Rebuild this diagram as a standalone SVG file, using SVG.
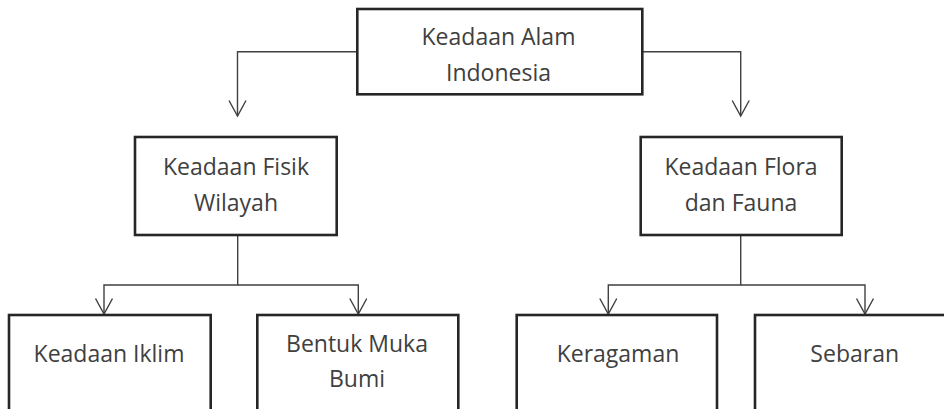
<svg xmlns="http://www.w3.org/2000/svg" width="944" height="409" viewBox="0 0 944 409">
<style>
.box{fill:#ffffff;stroke:#262626;stroke-width:2.6}
.lbl{font-family:"Open Sans","Liberation Sans",sans-serif;font-size:23px;fill:#404040;text-anchor:middle}
.con{fill:none;stroke:#404040;stroke-width:1.4}
</style>
<defs>
<marker id="arr" markerUnits="userSpaceOnUse" markerWidth="20" markerHeight="20" viewBox="0 0 20 20" refX="16" refY="9" orient="auto">
<path d="M0.5,0.5 L16,9 L0.5,17.5" fill="none" stroke="#404040" stroke-width="1.4"/>
</marker>
</defs>
<rect width="944" height="409" fill="#ffffff"/>
<g id="connectors">
<path class="con" d="M357,51.7 H237.5 V116" marker-end="url(#arr)"/>
<path class="con" d="M642,51.7 H740.7 V116" marker-end="url(#arr)"/>
<path class="con" d="M237.7,235 V285 H104 V314" marker-end="url(#arr)"/>
<path class="con" d="M237.7,285 H358.3 V314" marker-end="url(#arr)"/>
<path class="con" d="M740.7,235 V285 H608.3 V314" marker-end="url(#arr)"/>
<path class="con" d="M740.7,285 H865 V314" marker-end="url(#arr)"/>
</g>
<g id="n-alam">
<rect class="box" x="357.3" y="9" width="285" height="85.3"/>
<text class="lbl" x="498.5" y="45">Keadaan Alam</text>
<text class="lbl" x="498.5" y="81">Indonesia</text>
</g>
<g id="n-fisik">
<rect class="box" x="135" y="137" width="201.7" height="98"/>
<text class="lbl" x="236" y="175">Keadaan Fisik</text>
<text class="lbl" x="236" y="211">Wilayah</text>
</g>
<g id="n-flora">
<rect class="box" x="640.7" y="137" width="201" height="98"/>
<text class="lbl" x="741" y="174.5">Keadaan Flora</text>
<text class="lbl" x="741" y="210.5">dan Fauna</text>
</g>
<g id="n-iklim">
<rect class="box" x="9" y="315" width="201.7" height="110"/>
<text class="lbl" x="109" y="362.3">Keadaan Iklim</text>
</g>
<g id="n-bentuk">
<rect class="box" x="257.3" y="315" width="201" height="110"/>
<text class="lbl" x="357" y="352.3">Bentuk Muka</text>
<text class="lbl" x="357" y="387.3">Bumi</text>
</g>
<g id="n-keragaman">
<rect class="box" x="516.7" y="315" width="200.3" height="110"/>
<text class="lbl" x="618" y="362.3">Keragaman</text>
</g>
<g id="n-sebaran">
<rect class="box" x="755" y="315" width="201" height="110"/>
<text class="lbl" x="854.7" y="362.3">Sebaran</text>
</g>
</svg>
